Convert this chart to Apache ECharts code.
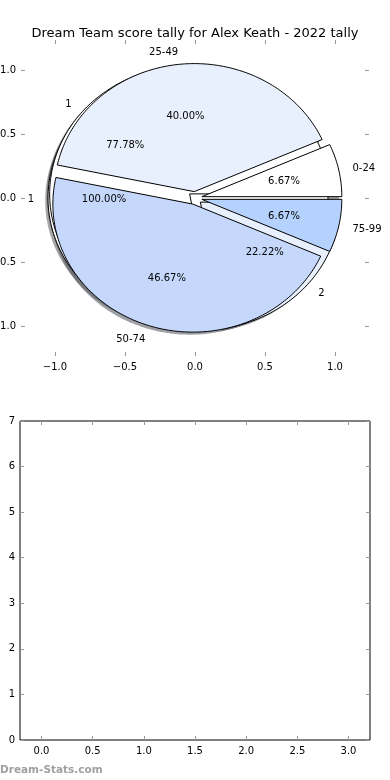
<!DOCTYPE html>
<html><head><meta charset="utf-8">
<script src="https://cdn.jsdelivr.net/npm/echarts@6/dist/echarts.min.js"></script>
<style>html,body{margin:0;padding:0;background:#fff}#c{width:390px;height:780px}</style>
</head><body><div id="c"></div>
<script>
const titleText = 'Dream Team score tally for Alex Keath - 2022 tally';
const rangeLabels = ['0-24', '25-49', '50-74', '75-99'];
const rangeCounts = [1, 6, 7, 1];
const groupLabels = ['1', '2'];
const groupCounts = [7, 2];
const totalLabels = ['1'];
const totalCounts = [1];
const pieTicks = [-1, -0.5, 0, 0.5, 1];
const barXTicks = [0, 0.5, 1, 1.5, 2, 2.5, 3];
const barYTicks = [0, 1, 2, 3, 4, 5, 6, 7];
const watermark = 'Dream-Stats.com';

const colors = ['#ffffff', '#e9f0fd', '#c5d8fc', '#b4d2fd'];
const EXPLODE = 0.05, LABEL_D = 1.1, PCT_D = 0.6, SHADOW = 0.02;
const FONT = 'DejaVu Sans';

// draw order: bottom to top
const pies = [
  { labels: totalLabels, counts: totalCounts },
  { labels: groupLabels, counts: groupCounts },
  { labels: rangeLabels, counts: rangeCounts }
];

function wedgesOf(p) {
  const total = p.counts.reduce((a, b) => a + b, 0);
  let acc = 0;
  return p.counts.map((c, i) => {
    const t1 = acc / total * 360; acc += c; const t2 = acc / total * 360;
    return { t1, t2, frac: c / total, label: p.labels[i], color: colors[i % colors.length] };
  });
}
const pieWedges = pies.map(wedgesOf);
const allWedges = [].concat(...pieWedges);

function hexToRgb(h) {
  const n = parseInt(h.slice(1), 16);
  return [(n >> 16) & 255, (n >> 8) & 255, n & 255];
}

function wedgePoints(api, w, dx, dy) {
  const tm = (w.t1 + w.t2) / 2 * Math.PI / 180;
  const cx = EXPLODE * Math.cos(tm) + dx, cy = EXPLODE * Math.sin(tm) + dy;
  const pts = [];
  const full = (w.t2 - w.t1) >= 359.999;
  if (!full) pts.push(api.coord([cx, cy]));
  const n = Math.max(12, Math.ceil(w.t2 - w.t1));
  for (let k = 0; k <= n; k++) {
    const a = (w.t1 + (w.t2 - w.t1) * k / n) * Math.PI / 180;
    pts.push(api.coord([cx + Math.cos(a), cy + Math.sin(a)]));
  }
  return pts;
}

const series = [];
// shadows (beneath all wedges)
series.push({
  type: 'custom', coordinateSystem: 'cartesian2d', xAxisIndex: 0, yAxisIndex: 0, z: 2, silent: true,
  data: allWedges.map(w => [w.t1, w.t2]),
  renderItem: (params, api) => {
    const w = allWedges[params.dataIndex];
    const rgb = hexToRgb(w.color).map(v => Math.round(v * 0.3));
    return { type: 'polygon', shape: { points: wedgePoints(api, w, -SHADOW, -SHADOW) },
      style: { fill: `rgba(${rgb[0]},${rgb[1]},${rgb[2]},0.5)`, stroke: null } };
  }
});
pieWedges.forEach((ws, pi) => {
  series.push({
    type: 'custom', coordinateSystem: 'cartesian2d', xAxisIndex: 0, yAxisIndex: 0, z: 3 + pi, silent: true,
    data: ws.map(w => [w.t1, w.t2]),
    renderItem: (params, api) => {
      const w = ws[params.dataIndex];
      return { type: 'polygon', shape: { points: wedgePoints(api, w, 0, 0) },
        style: { fill: w.color, stroke: '#000', lineWidth: 1, lineJoin: 'miter' } };
    }
  });
});
// labels on top
series.push({
  type: 'custom', coordinateSystem: 'cartesian2d', xAxisIndex: 0, yAxisIndex: 0, z: 10, silent: true,
  data: allWedges.map(w => [w.t1, w.t2]),
  renderItem: (params, api) => {
    const w = allWedges[params.dataIndex];
    const tm = (w.t1 + w.t2) / 2 * Math.PI / 180;
    const cx = EXPLODE * Math.cos(tm), cy = EXPLODE * Math.sin(tm);
    const lx = cx + LABEL_D * Math.cos(tm), ly = cy + LABEL_D * Math.sin(tm);
    const px = cx + PCT_D * Math.cos(tm), py = cy + PCT_D * Math.sin(tm);
    const lp = api.coord([lx, ly]), pp = api.coord([px, py]);
    return { type: 'group', children: [
      { type: 'text', x: lp[0], y: lp[1] + 1, style: { text: w.label, fill: '#000', font: '10px "' + FONT + '"',
        align: lx > 0 ? 'left' : 'right', verticalAlign: 'middle' } },
      { type: 'text', x: pp[0], y: pp[1] + 1, style: { text: (w.frac * 100).toFixed(2) + '%', fill: '#000',
        font: '10px "' + FONT + '"', align: 'center', verticalAlign: 'middle' } }
    ] };
  }
});

const tickStyle = { show: true, inside: true, length: 4, lineStyle: { color: '#999', width: 1 } };
const fmt1 = v => v.toFixed(1).replace('-', '\u2212');
const labelStyle = { color: '#000', fontSize: 10, fontFamily: FONT };

function valAxis(grid, pos, min, max, ticks, showLabel, formatter, margin) {
  return {
    type: 'value', gridIndex: grid, position: pos, min, max,
    axisLine: { show: false, onZero: false }, splitLine: { show: false },
    axisTick: Object.assign({ customValues: ticks }, tickStyle),
    axisLabel: Object.assign({ show: showLabel, customValues: ticks, formatter, margin, hideOverlap: false }, labelStyle)
  };
}

const option = {
  animation: false,
  backgroundColor: '#fff',
  title: { text: titleText, left: 'center', top: 22,
    textStyle: { fontSize: 13, fontWeight: 'normal', color: '#000', fontFamily: FONT } },
  grid: [
    { left: 21, top: 40, width: 348, height: 316, show: false, containLabel: false, outerBoundsMode: 'none' },
    { left: 20, top: 421, width: 350, height: 319, show: true, borderColor: '#000', borderWidth: 1,
      backgroundColor: 'transparent', containLabel: false, outerBoundsMode: 'none' }
  ],
  xAxis: [
    valAxis(0, 'bottom', -1.243, 1.243, pieTicks, true, fmt1, 6),
    valAxis(0, 'top', -1.243, 1.243, pieTicks, false, fmt1, 6),
    valAxis(1, 'bottom', -0.21, 3.21, barXTicks, true, fmt1, 6),
    valAxis(1, 'top', -0.21, 3.21, barXTicks, false, fmt1, 6)
  ],
  yAxis: [
    valAxis(0, 'left', -1.234, 1.234, pieTicks, true, fmt1, 5),
    valAxis(0, 'right', -1.234, 1.234, pieTicks, false, fmt1, 5),
    valAxis(1, 'left', 0, 7, barYTicks, true, v => String(v), 5),
    valAxis(1, 'right', 0, 7, barYTicks, false, v => String(v), 5)
  ],
  series,
  graphic: [
    { type: 'text', left: 0, top: 765, style: { text: watermark, fill: '#a0a0a0', font: 'bold 10.5px "' + FONT + '"' } }
  ]
};

const chart = echarts.init(document.getElementById('c'), null, { renderer: 'canvas' });
chart.setOption(option);
</script>
</body></html>
